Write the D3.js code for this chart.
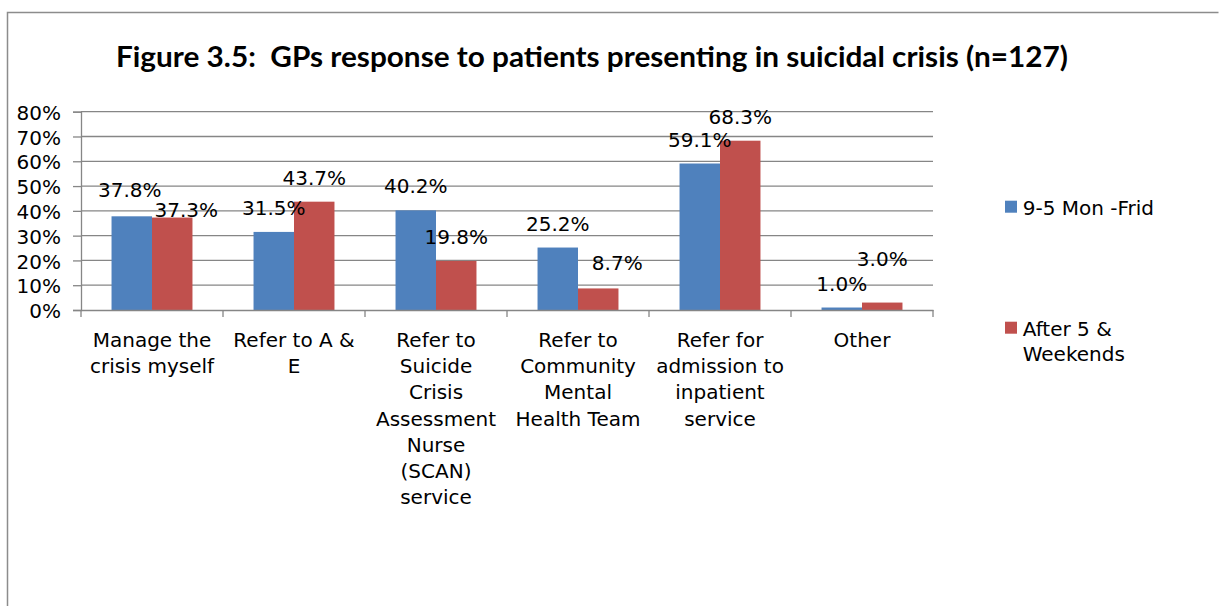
<!DOCTYPE html>
<html>
<head>
<meta charset="utf-8">
<script src="https://cdn.jsdelivr.net/npm/d3@7"></script>
<style>
  html, body { margin: 0; padding: 0; background: #fff; }
  svg { display: block; }
  text { font-family: "DejaVu Sans", Verdana, sans-serif; fill: #000; }
</style>
</head>
<body>
<svg id="chart" width="1225" height="606"></svg>
<script>
// ---------- data ----------
const titleText = "Figure 3.5:  GPs response to patients presenting in suicidal crisis (n=127)";
const categories = [
  "Manage the\ncrisis myself",
  "Refer to A &\nE",
  "Refer to\nSuicide\nCrisis\nAssessment\nNurse\n(SCAN)\nservice",
  "Refer to\nCommunity\nMental\nHealth Team",
  "Refer for\nadmission to\ninpatient\nservice",
  "Other"
];
const seriesNames = ["9-5 Mon -Frid", "After 5 &\nWeekends"];
const weekdayValues = [0.378, 0.315, 0.402, 0.252, 0.591, 0.010];
const afterHoursValues = [0.373, 0.437, 0.198, 0.087, 0.683, 0.030];
const yTicks = [0, 0.1, 0.2, 0.3, 0.4, 0.5, 0.6, 0.7, 0.8];

// ---------- layout / style (not data) ----------
const colors = ["#4F81BD", "#C0504D"];
const gridColor = "#868686";
const fontSize = 20;
// manual nudges of the data labels (px), per series, per category
const labelNudge = [
  [[-2, -2.6], [0, 0], [0, 0], [0, 0], [0, 0], [0, 0]],
  [[14, 16.2], [0, 0], [0, 0], [19, -1.4], [0, 0], [0, -20]]
];

const svg = d3.select("#chart");
const plot = { left: 81, right: 933, top: 111.7, bottom: 310 };

// frame
svg.append("path")
  .attr("d", "M7.5,606 V12.5 H1218.5")
  .attr("fill", "none").attr("stroke", "#8c8c8c").attr("stroke-width", 1.5);

// title
svg.append("text")
  .attr("x", 592).attr("y", 66.7)
  .attr("text-anchor", "middle")
  .attr("xml:space", "preserve")
  .style("white-space", "pre")
  .style("font-family", "Lato, 'Open Sans', sans-serif")
  .style("font-weight", "bold")
  .style("font-size", "28px")
  .attr("textLength", 952).attr("lengthAdjust", "spacingAndGlyphs")
  .text(titleText);

const series = [weekdayValues, afterHoursValues];

const y = d3.scaleLinear().domain([0, 0.8]).range([plot.bottom, plot.top]);
const x0 = d3.scaleBand().domain(categories).range([plot.left, plot.right]).padding(0);
const gap = x0.bandwidth() * 0.215;
const x1 = d3.scaleBand().domain(d3.range(series.length)).range([gap, x0.bandwidth() - gap]).padding(0);

// gridlines
svg.append("g").selectAll("line").data(yTicks.filter(d => d > 0)).join("line")
  .attr("x1", plot.left).attr("x2", plot.right)
  .attr("y1", d => y(d)).attr("y2", d => y(d))
  .attr("stroke", gridColor).attr("stroke-width", 1.3);

// y axis
const yAxis = d3.axisLeft(y).tickValues(yTicks).tickFormat(d3.format(".0%")).tickSize(8).tickPadding(12);
const gy = svg.append("g").attr("transform", `translate(${plot.left},0)`).call(yAxis);
gy.select(".domain").attr("stroke", gridColor).attr("stroke-width", 1.3);
gy.selectAll(".tick line").attr("stroke", gridColor).attr("stroke-width", 1.3);
gy.selectAll(".tick text")
  .style("font-family", "'DejaVu Sans', Verdana, sans-serif")
  .style("font-size", fontSize + "px").attr("fill", "#000").attr("dy", "0.38em");

// bars
const groups = svg.append("g").selectAll("g").data(categories).join("g")
  .attr("transform", d => `translate(${x0(d)},0)`);
groups.selectAll("rect")
  .data((c, i) => series.map((s, k) => ({ k, v: s[i], i })))
  .join("rect")
  .attr("x", d => x1(d.k))
  .attr("width", x1.bandwidth())
  .attr("y", d => y(d.v))
  .attr("height", d => y(0) - y(d.v))
  .attr("fill", d => colors[d.k]);

// x axis
const xAxis = d3.axisBottom(x0).tickSize(0).tickFormat("");
const gx = svg.append("g").attr("transform", `translate(0,${plot.bottom})`).call(xAxis);
gx.select(".domain").attr("stroke", gridColor).attr("stroke-width", 1.3);
// category boundary ticks
const boundaries = categories.map(c => x0(c)).concat([plot.right]);
svg.append("g").selectAll("line").data(boundaries).join("line")
  .attr("x1", d => d).attr("x2", d => d)
  .attr("y1", plot.bottom).attr("y2", plot.bottom + 7)
  .attr("stroke", gridColor).attr("stroke-width", 1.3);

// category labels
svg.append("g").selectAll("text").data(categories).join("text")
  .attr("text-anchor", "middle")
  .style("font-size", fontSize + "px")
  .attr("transform", d => `translate(${x0(d) + x0.bandwidth() / 2},346.7)`)
  .each(function (d) {
    const t = d3.select(this);
    d.split("\n").forEach((line, j) => {
      t.append("tspan").attr("x", 0).attr("y", j * 26.3).text(line);
    });
  });

// data labels
const fmt = d3.format(".1%");
groups.selectAll("text.lbl")
  .data((c, i) => series.map((s, k) => ({ k, v: s[i], i })))
  .join("text")
  .attr("class", "lbl")
  .attr("text-anchor", "middle")
  .style("font-size", fontSize + "px")
  .attr("x", d => x1(d.k) + x1.bandwidth() / 2 + labelNudge[d.k][d.i][0])
  .attr("y", d => y(d.v) - 17 + labelNudge[d.k][d.i][1])
  .text(d => fmt(d.v));

// legend
const legendY = [200.7, 321.7];
const legend = svg.append("g").selectAll("g").data(seriesNames).join("g")
  .attr("transform", (d, i) => `translate(1005,${legendY[i]})`);
legend.append("rect").attr("width", 12).attr("height", 12).attr("fill", (d, i) => colors[i]);
legend.append("text")
  .style("font-size", fontSize + "px")
  .each(function (d) {
    const t = d3.select(this);
    d.split("\n").forEach((line, j) => {
      t.append("tspan").attr("x", 17.7).attr("y", 14.3 + j * 25).text(line);
    });
  });
</script>
</body>
</html>
